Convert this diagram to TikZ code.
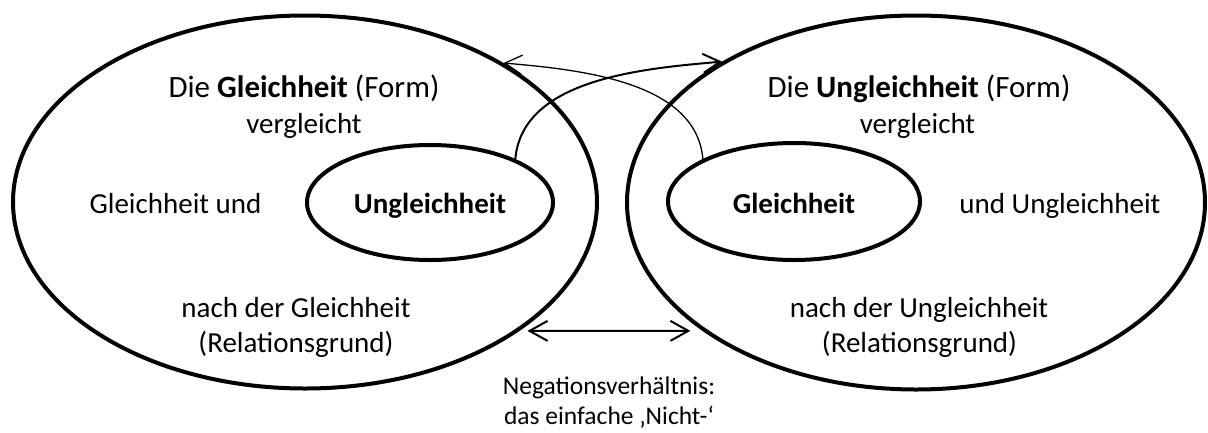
\documentclass[tikz,border=0pt]{standalone}
\usepackage{fontspec}
\setmainfont{Carlito}
\usetikzlibrary{shapes.geometric,arrows.meta}
\begin{document}
\begin{tikzpicture}[x=1pt,y=-1pt,
  bigell/.style={ellipse, draw, line width=4pt, inner sep=0pt},
  inell/.style={ellipse, draw, line width=4pt, inner sep=0pt},
  txt/.style={font=\fontsize{29}{35.5}\selectfont, inner sep=0pt, anchor=base},
  headtxt/.style={font=\fontsize{31}{37}\selectfont, inner sep=0pt, anchor=base},
  smalltxt/.style={font=\fontsize{25.5}{31}\selectfont, inner sep=0pt, anchor=base},
  barb/.style={-{Straight Barb[length=17pt,width=19pt]}},
]
\useasboundingbox (0,0) rectangle (1208,432);
% big ellipses
\node[bigell, minimum width=584pt, minimum height=373pt] (L) at (305,202) {};
\node[bigell, minimum width=578pt, minimum height=374pt] (R) at (916,202.5) {};
% inner ellipses
\node[inell, minimum width=246pt, minimum height=115pt] (inL) at (430,202.5) {};
\node[inell, minimum width=252pt, minimum height=117pt] (inR) at (794,201.5) {};
% left texts
\node[headtxt] (l1) at (304,97) {Die \textbf{Gleichheit} (Form)};
\node[txt] (l2) at (304,133) {vergleicht};
\node[txt] (l3) at (175.5,213) {Gleichheit und};
\node[txt] (l4) at (430,213) {\textbf{Ungleichheit}};
\node[txt] (l5) at (296,317) {nach der Gleichheit};
\node[txt] (l6) at (296,352) {(Relationsgrund)};
% right texts
\node[headtxt] (r1) at (919,97) {Die \textbf{Ungleichheit} (Form)};
\node[txt] (r2) at (917.5,133) {vergleicht};
\node[txt] (r3) at (794,213) {\textbf{Gleichheit}};
\node[txt] (r4) at (1060,213) {und Ungleichheit};
\node[txt] (r5) at (919,317) {nach der Ungleichheit};
\node[txt] (r6) at (919.5,352) {(Relationsgrund)};
% bottom texts
\node[smalltxt] (b1) at (609,394) {Negationsverhältnis:};
\node[smalltxt] (b2) at (609,424) {das einfache ‚Nicht-‘};
% arrows
\draw[line width=1.3pt, barb] (inR.155) to[out=95,in=-5,looseness=0.9] (L.35);
\draw[line width=2pt, barb] (inL.27) to[out=85,in=185,looseness=0.9] (R.144);
\draw[line width=2pt, {Straight Barb[length=18pt,width=20pt]}-{Straight Barb[length=18pt,width=20pt]}, shorten <=8pt, shorten >=12pt] (L.-31) -- (R.-149);
\end{tikzpicture}
\end{document}
